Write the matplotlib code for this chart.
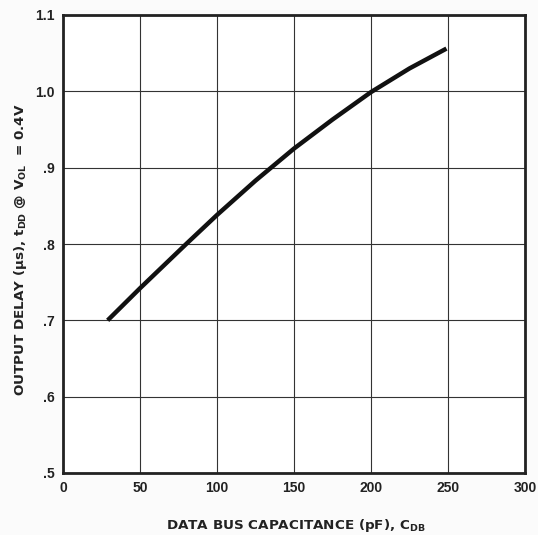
import matplotlib
matplotlib.use("Agg")
import matplotlib.pyplot as plt

plt.rcParams['font.family'] = ['Liberation Sans', 'DejaVu Sans']
plt.rcParams['mathtext.default'] = 'regular'

cap_pf = [29, 50, 80, 100, 125, 150, 175, 200, 225, 249]
delay_us = [0.700, 0.742, 0.800, 0.838, 0.883, 0.925, 0.963, 0.999, 1.030, 1.056]
x_ticks = [0, 50, 100, 150, 200, 250, 300]
y_ticks = [0.5, 0.6, 0.7, 0.8, 0.9, 1.0, 1.1]
y_tick_labels = [".5", ".6", ".7", ".8", ".9", "1.0", "1.1"]

fig = plt.figure(figsize=(5.38, 5.35), dpi=100)
fig.patch.set_facecolor('#fbfbfb')
ax = fig.add_axes([63/538, 1 - 473/535, (525-63)/538, (473-15)/535])
ax.set_facecolor('white')

ax.plot(cap_pf, delay_us, color='#111111', lw=3.2, solid_capstyle='butt',
        solid_joinstyle='round')

ax.set_xlim(0, 300)
ax.set_ylim(0.5, 1.1)
ax.set_xticks(x_ticks)
ax.set_xticklabels([str(v) for v in x_ticks])
ax.set_yticks(y_ticks)
ax.set_yticklabels(y_tick_labels)
ax.grid(True, color='#333333', lw=0.8)
ax.tick_params(length=0, pad=6, labelsize=10, colors='#222222')
for lab in ax.get_xticklabels() + ax.get_yticklabels():
    lab.set_fontweight('bold')
for s in ax.spines.values():
    s.set_linewidth(2)
    s.set_color('#222222')

lab_font = dict(family=['DejaVu Sans'], fontweight='bold', fontsize=9.7, color='#222222')
fig.text(296/538, 1 - 525/535, r"DATA BUS CAPACITANCE (pF), C$_{DB}$",
         ha='center', va='center', **lab_font)
fig.text(21/538, 1 - 250/535, r"OUTPUT DELAY (μs), t$_{DD}$ @ V$_{OL}$  = 0.4V",
         ha='center', va='center', rotation=90, **lab_font)

fig.savefig("out.png", dpi=100, facecolor=fig.get_facecolor())
